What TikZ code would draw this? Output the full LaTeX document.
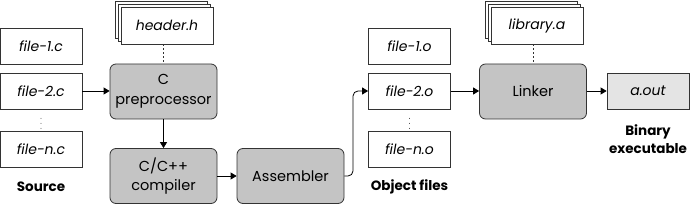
\documentclass[tikz,border=0pt]{standalone}
\usepackage{fontspec}
\setmainfont{Poppins}
\usetikzlibrary{arrows.meta}
\definecolor{procgray}{HTML}{C4C4C4}
\definecolor{outgray}{HTML}{E4E4E4}
\definecolor{edge}{HTML}{333333}
\tikzset{
  filebox/.style={draw=edge, line width=0.8pt, fill=white, minimum width=82pt, minimum height=36pt, inner sep=0pt, font=\fontsize{14}{16}\selectfont\itshape},
  procbox/.style={draw=edge, line width=0.8pt, fill=procgray, rounded corners=6pt, minimum width=107pt, minimum height=55pt, inner sep=0pt, align=center, font=\fontsize{14.5}{19.5}\selectfont},
  outbox/.style={filebox, fill=outgray},
  stackbox/.style={draw=edge, line width=0.8pt, fill=white, minimum width=92pt, minimum height=37pt, inner sep=0pt, font=\fontsize{14}{16}\selectfont\itshape},
  caption/.style={font=\fontsize{13.5}{18}\selectfont\bfseries, align=center},
  flow/.style={draw=black, line width=0.8pt, -{Triangle[length=6pt,width=7pt]}},
  dashlink/.style={draw=edge, line width=0.7pt, dash pattern=on 2pt off 2pt},
  dotline/.style={draw=edge, line width=0.9pt, line cap=round, dash pattern=on 0pt off 5pt}
}
\begin{document}
\begin{tikzpicture}[x=1pt,y=-1pt]
\useasboundingbox (0,0) rectangle (690,205);
% source files
\node[filebox] (f1c) at (41,46) {file-1.c};
\node[filebox] (f2c) at (41,91) {file-2.c};
\node[filebox] (fnc) at (41,149.5) {file-n.c};
\node[caption] (src) at (41,187) {Source};
% header stack
\node[stackbox] (h3) at (161,19.5) {};
\node[stackbox] (h2) at (164,22.5) {};
\node[stackbox] (hdr) at (167,25.5) {header.h};
% processors
\node[procbox] (pre) at (163.5,91.5) {C\\preprocessor};
\node[procbox] (cmp) at (163.5,176) {C/C++\\compiler};
\node[procbox] (asm) at (290.5,176) {Assembler};
% object files
\node[filebox] (f1o) at (409.5,46) {file-1.o};
\node[filebox] (f2o) at (409.5,91) {file-2.o};
\node[filebox] (fno) at (409.5,149.5) {file-n.o};
\node[caption] (obj) at (409.5,187) {Object files};
% library stack
\node[stackbox] (l3) at (531,19.5) {};
\node[stackbox] (l2) at (534,22.5) {};
\node[stackbox] (lib) at (537,25.5) {library.a};
\node[procbox] (lnk) at (533,91.5) {Linker};
\node[outbox] (aout) at (648,91) {a.out};
\node[caption] (bin) at (648,139) {Binary\\executable};
% vertical ellipses
\draw[dotline] ([yshift=-9pt]f2c.south) -- ([yshift=-21pt]f2c.south);
\draw[dotline] ([yshift=-9pt]f2o.south) -- ([yshift=-21pt]f2o.south);
% connectors
\draw[flow] (f2c.east) -- (pre.west |- f2c.east);
\draw[dashlink] (hdr.south -| pre.north) -- (pre.north);
\draw[flow] (pre.south) -- (cmp.north);
\draw[flow] (cmp.east) -- (asm.west);
\draw[flow, rounded corners=5pt] (asm.east) -- (353,176) -- (353,91) -- (f2o.west);
\draw[flow] (f2o.east) -- (lnk.west |- f2o.east);
\draw[dashlink] (lib.south -| lnk.north) -- (lnk.north);
\draw[flow] (lnk.east |- aout.west) -- (aout.west);
\end{tikzpicture}
\end{document}
